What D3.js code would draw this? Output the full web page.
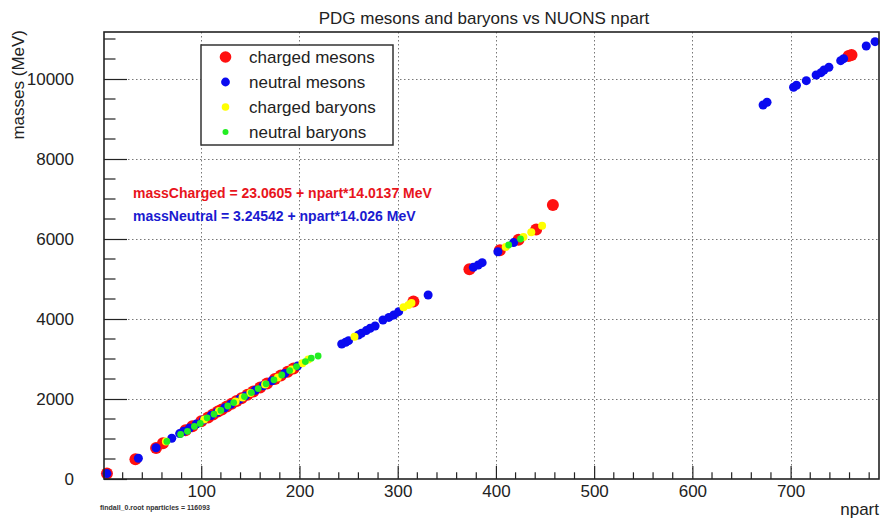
<!DOCTYPE html>
<html><head><meta charset="utf-8">
<script src="https://cdn.jsdelivr.net/npm/d3@7"></script>
<style>body{margin:0;background:#fff;} svg{display:block;font-family:"Liberation Sans",Arial,sans-serif;}</style>
</head><body><svg id="c" width="890" height="518"></svg>
<script>
// ---- data (npart, mass MeV) ----
const chargedMesonsN = [4, 33, 54, 61, 84, 91, 100, 107, 112, 117, 121, 126, 131, 136, 141, 147, 153, 160, 167, 175, 181, 188, 194, 316, 373, 404, 423, 441, 458, 759, 762];
const chargedMesonsM = [140, 494, 775, 892, 1220, 1320, 1445, 1540, 1615, 1685, 1740, 1810, 1880, 1950, 2020, 2105, 2190, 2290, 2385, 2500, 2585, 2680, 2765, 4435, 5245, 5720, 5980, 6240, 6850, 10575, 10600];
const neutralMesonsN = [4, 36, 54, 70, 78, 82, 88, 95, 102, 110, 116, 124, 130, 139, 145, 155, 163, 172, 185, 198, 243, 247, 250, 260, 263, 268, 272, 277, 285, 291, 296, 301, 331, 377, 382, 386, 402, 418, 672, 676, 703, 706, 716, 726, 731, 734, 739, 751, 754, 777, 786];
const neutralMesonsM = [135, 518, 782, 1020, 1135, 1192, 1276, 1375, 1473, 1586, 1670, 1782, 1867, 1993, 2077, 2218, 2330, 2457, 2640, 2822, 3375, 3420, 3458, 3600, 3642, 3710, 3770, 3825, 3975, 4040, 4100, 4183, 4600, 5292, 5350, 5408, 5680, 5910, 9350, 9418, 9793, 9843, 9958, 10100, 10158, 10225, 10293, 10458, 10508, 10825, 10933];
const chargedBaryonsN = [64, 103, 118, 135, 142, 150, 165, 178, 192, 203, 209, 256, 306, 311, 314, 410, 428, 436, 447];
const chargedBaryonsM = [938, 1490, 1700, 1940, 2040, 2150, 2360, 2540, 2740, 2895, 2985, 3558, 4292, 4350, 4400, 5800, 6050, 6170, 6330];
const neutralBaryonsN = [65, 79, 86, 93, 99, 106, 113, 120, 127, 133, 144, 151, 158, 166, 174, 182, 190, 197, 206, 212, 219, 413, 425];
const neutralBaryonsM = [940, 1115, 1192, 1315, 1390, 1530, 1620, 1715, 1825, 1910, 2060, 2160, 2260, 2380, 2480, 2600, 2710, 2810, 2935, 3020, 3075, 5850, 6000];

const seriesNames = ["charged mesons", "neutral mesons", "charged baryons", "neutral baryons"];
const seriesColors = ["#ff1010", "#0a0af0", "#ffff00", "#22ee22"];
const xTicks = [100, 200, 300, 400, 500, 600, 700];
const yTicks = [0, 2000, 4000, 6000, 8000, 10000];
const titleText = "PDG mesons and baryons vs NUONS npart";
const fitCharged = "massCharged = 23.0605 + npart*14.0137 MeV";
const fitNeutral = "massNeutral = 3.24542 + npart*14.026 MeV";
const footText = "findall_0.root nparticles = 116093";

// ---- layout ----
const L = 104, R = 879, T = 32, B = 479;
const x = d3.scaleLinear().domain([1, 790]).range([L, R]);
const y = d3.scaleLinear().domain([0, 11175]).range([B, T]);
const svg = d3.select("#c");

// grid
const grid = svg.append("g").attr("stroke", "#777").attr("stroke-width", 1).attr("stroke-dasharray", "1.5,2.5");
grid.selectAll("line.v").data(xTicks).join("line").attr("x1", d => Math.round(x(d)) + 0.5).attr("x2", d => Math.round(x(d)) + 0.5).attr("y1", T).attr("y2", B);
grid.selectAll("line.h").data(yTicks.filter(d => d > 0)).join("line").attr("y1", d => Math.round(y(d)) + 0.5).attr("y2", d => Math.round(y(d)) + 0.5).attr("x1", L).attr("x2", R);

// points
const series = [
  [chargedMesonsN, chargedMesonsM, 6],
  [neutralMesonsN, neutralMesonsM, 4.5],
  [chargedBaryonsN, chargedBaryonsM, 4],
  [neutralBaryonsN, neutralBaryonsM, 3.4]
];
series.forEach((s, i) => {
  const pts = s[0].map((n, k) => [n, s[1][k]]);
  svg.append("g").selectAll("circle").data(pts).join("circle")
    .attr("cx", d => x(d[0])).attr("cy", d => y(d[1])).attr("r", s[2]).attr("fill", seriesColors[i]);
});

// axes (ROOT style, ticks inward)
const yAxis = d3.axisLeft(y).tickValues(yTicks).tickSize(-23).tickPadding(30).tickFormat(d3.format("d"));
const yg = svg.append("g").attr("transform", `translate(${L},0)`).call(yAxis);
const yMinor = d3.range(0, 11001, 500).filter(d => d % 2000 !== 0);
yg.selectAll("line.minor").data(yMinor).join("line").attr("class", "minor").attr("x1", 0).attr("x2", 11.5).attr("y1", d => y(d)).attr("y2", d => y(d));
const xAxis = d3.axisBottom(x).tickValues(xTicks).tickSize(-13).tickPadding(6).tickFormat(d3.format("d"));
const xg = svg.append("g").attr("transform", `translate(0,${B})`).call(xAxis);
const xMinor = d3.range(20, 790, 20).filter(d => d % 100 !== 0);
xg.selectAll("line.minor").data(xMinor).join("line").attr("class", "minor").attr("y1", 0).attr("y2", -6.7).attr("x1", d => x(d)).attr("x2", d => x(d));
[yg, xg].forEach(g => {
  g.select(".domain").remove();
  g.selectAll("line").attr("stroke", "#222").attr("stroke-width", 1.2);
  g.selectAll("text").attr("fill", "#222").attr("font-size", 17).attr("font-family", "Liberation Sans, Arial, sans-serif");
});
yg.selectAll(".tick text").attr("dy", "0.35em");

// frame
svg.append("rect").attr("x", L).attr("y", T).attr("width", R - L).attr("height", B - T).attr("fill", "none").attr("stroke", "#222").attr("stroke-width", 1.6);

// title and axis titles
svg.append("text").attr("x", 484).attr("y", 24).attr("text-anchor", "middle").attr("font-size", 17).attr("fill", "#222").text(titleText);
svg.append("text").attr("transform", "translate(24,30) rotate(-90)").attr("text-anchor", "end").attr("font-size", 17).attr("fill", "#222").text("masses (MeV)");
svg.append("text").attr("x", 879).attr("y", 515).attr("text-anchor", "end").attr("font-size", 17).attr("fill", "#222").text("npart");
svg.append("text").attr("x", 100).attr("y", 510).attr("font-size", 7).attr("font-weight", "bold").attr("fill", "#333").text(footText);

// legend
const lg = svg.append("g");
lg.append("rect").attr("x", 201).attr("y", 45).attr("width", 192).attr("height", 100).attr("fill", "#fff").attr("stroke", "#333").attr("stroke-width", 1.5);
const legR = [5.8, 4.4, 3.8, 3];
seriesNames.forEach((nm, i) => {
  const cy = 57 + i * 25;
  lg.append("circle").attr("cx", 225.5).attr("cy", cy).attr("r", legR[i]).attr("fill", seriesColors[i]);
  lg.append("text").attr("x", 249).attr("y", cy).attr("dy", "0.35em").attr("font-size", 17).attr("fill", "#222").text(nm);
});

// fit formulas
svg.append("text").attr("x", 133).attr("y", 193).attr("dy", "0.35em").attr("font-size", 14).attr("font-weight", "bold").attr("fill", "#e8141c").text(fitCharged);
svg.append("text").attr("x", 133).attr("y", 216).attr("dy", "0.35em").attr("font-size", 14).attr("font-weight", "bold").attr("fill", "#1a1ad0").text(fitNeutral);
</script></body></html>
